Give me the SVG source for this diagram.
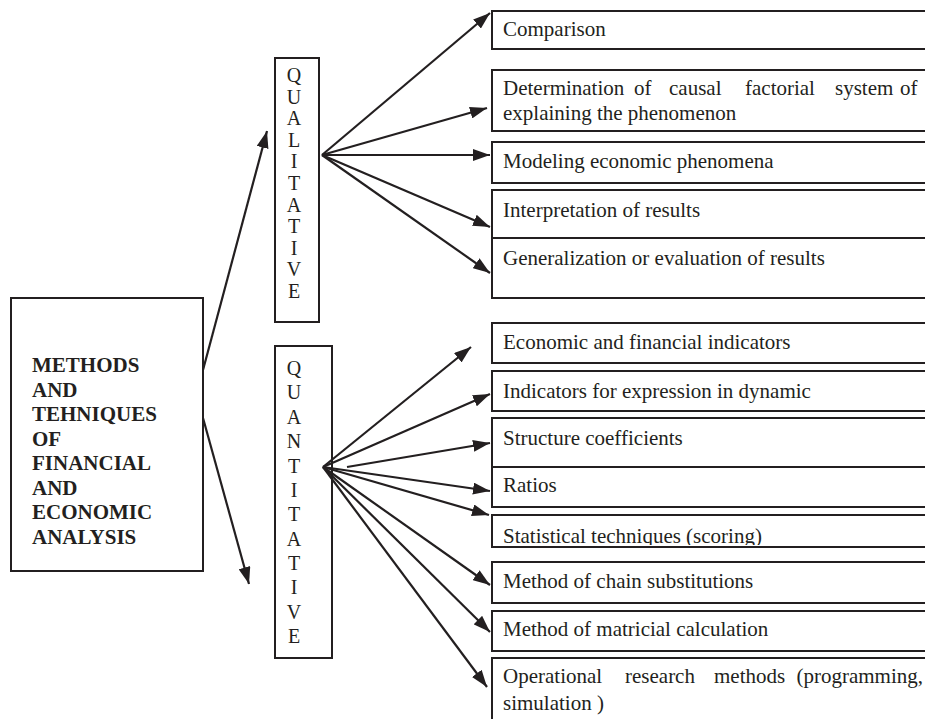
<svg xmlns="http://www.w3.org/2000/svg" width="925" height="719" viewBox="0 0 925 719">
<style>
  .box { fill: #fff; stroke: #231f20; stroke-width: 2; }
  .t { font-family: "Liberation Serif", "Times New Roman", serif; font-size: 21px; fill: #231f20; }
  .b { font-family: "Liberation Serif", "Times New Roman", serif; font-size: 21px; font-weight: bold; fill: #231f20; }
  .v { font-family: "Liberation Serif", "Times New Roman", serif; font-size: 20px; fill: #231f20; text-anchor: middle; }
  .c { stroke: #231f20; stroke-width: 2.2; fill: none; marker-end: url(#ah); }
</style>
<defs>
  <marker id="ah" markerUnits="userSpaceOnUse" markerWidth="17" markerHeight="12" refX="17" refY="6" orient="auto">
    <path d="M0,0 L17,6 L0,12 z" fill="#231f20"/>
  </marker>
  <clipPath id="clipStat"><rect x="492" y="515" width="440" height="30"/></clipPath>
</defs>
<rect width="925" height="719" fill="#fff"/>

<g id="main">
  <rect class="box" x="11" y="298" width="192" height="273"/>
  <text class="b" x="32" y="372">METHODS</text>
  <text class="b" x="32" y="397">AND</text>
  <text class="b" x="32" y="421">TEHNIQUES</text>
  <text class="b" x="32" y="446">OF</text>
  <text class="b" x="32" y="470">FINANCIAL</text>
  <text class="b" x="32" y="495">AND</text>
  <text class="b" x="32" y="519">ECONOMIC</text>
  <text class="b" x="32" y="544">ANALYSIS</text>
</g>

<g id="qualitative">
  <rect class="box" x="275" y="58" width="44" height="264"/>
  <text class="v" x="294" y="82">Q</text>
  <text class="v" x="294" y="104">U</text>
  <text class="v" x="294" y="125">A</text>
  <text class="v" x="294" y="147">L</text>
  <text class="v" x="294" y="168">I</text>
  <text class="v" x="294" y="190">T</text>
  <text class="v" x="294" y="212">A</text>
  <text class="v" x="294" y="233">T</text>
  <text class="v" x="294" y="255">I</text>
  <text class="v" x="294" y="276">V</text>
  <text class="v" x="294" y="298">E</text>
</g>

<g id="quantitative">
  <rect class="box" x="275" y="346" width="57" height="312"/>
  <text class="v" x="294" y="375">Q</text>
  <text class="v" x="294" y="399">U</text>
  <text class="v" x="294" y="424">A</text>
  <text class="v" x="294" y="448">N</text>
  <text class="v" x="294" y="473">T</text>
  <text class="v" x="294" y="497">I</text>
  <text class="v" x="294" y="521">T</text>
  <text class="v" x="294" y="546">A</text>
  <text class="v" x="294" y="570">T</text>
  <text class="v" x="294" y="594">I</text>
  <text class="v" x="294" y="619">V</text>
  <text class="v" x="294" y="643">E</text>
</g>

<g id="comparison">
  <rect class="box" x="492" y="11" width="445" height="38"/>
  <text class="t" x="503" y="36">Comparison</text>
</g>
<g id="determination">
  <rect class="box" x="492" y="70" width="445" height="61"/>
  <text class="t" y="95"><tspan x="503">Determination</tspan><tspan x="634">of</tspan><tspan x="669">causal</tspan><tspan x="745">factorial</tspan><tspan x="835">system</tspan><tspan x="900">of</tspan></text>
  <text class="t" x="503" y="120">explaining the phenomenon</text>
</g>
<g id="modeling">
  <rect class="box" x="492" y="142" width="445" height="41"/>
  <text class="t" x="503" y="168">Modeling economic phenomena</text>
</g>
<g id="interpretation">
  <rect class="box" x="492" y="190" width="445" height="48"/>
  <text class="t" x="503" y="217">Interpretation of results</text>
</g>
<g id="generalization">
  <rect class="box" x="492" y="238" width="445" height="60"/>
  <text class="t" x="503" y="265">Generalization or evaluation of results</text>
</g>

<g id="economic">
  <rect class="box" x="492" y="323" width="445" height="40"/>
  <text class="t" x="503" y="349">Economic and financial indicators</text>
</g>
<g id="dynamic">
  <rect class="box" x="492" y="371" width="445" height="40"/>
  <text class="t" x="503" y="398">Indicators for expression in dynamic</text>
</g>
<g id="structure">
  <rect class="box" x="492" y="418" width="445" height="49"/>
  <text class="t" x="503" y="445">Structure coefficients</text>
</g>
<g id="ratios">
  <rect class="box" x="492" y="467" width="445" height="40"/>
  <text class="t" x="503" y="492">Ratios</text>
</g>
<g id="statistical">
  <rect class="box" x="492" y="515" width="445" height="32"/>
  <text class="t" x="503" y="543" clip-path="url(#clipStat)">Statistical techniques (scoring)</text>
</g>
<g id="chain">
  <rect class="box" x="492" y="562" width="445" height="41"/>
  <text class="t" x="503" y="588">Method of chain substitutions</text>
</g>
<g id="matricial">
  <rect class="box" x="492" y="611" width="445" height="40"/>
  <text class="t" x="503" y="636">Method of matricial calculation</text>
</g>
<g id="operational">
  <rect class="box" x="492" y="658" width="445" height="80"/>
  <text class="t" y="683"><tspan x="503">Operational</tspan><tspan x="625">research</tspan><tspan x="714">methods</tspan><tspan x="923" text-anchor="end">(programming,</tspan></text>
  <text class="t" x="503" y="710">simulation )</text>
</g>

<g id="connectors">
  <line class="c" x1="203" y1="370" x2="267" y2="131"/>
  <line class="c" x1="203" y1="418" x2="249" y2="584"/>
  <line class="c" x1="322" y1="155" x2="490" y2="13"/>
  <line class="c" x1="322" y1="155" x2="487" y2="108"/>
  <line class="c" x1="322" y1="155" x2="490" y2="155"/>
  <line class="c" x1="322" y1="155" x2="490" y2="227"/>
  <line class="c" x1="322" y1="155" x2="490" y2="273"/>
  <line class="c" x1="323" y1="467" x2="471" y2="347"/>
  <line class="c" x1="323" y1="467" x2="490" y2="394"/>
  <line class="c" x1="347" y1="467" x2="490" y2="443"/>
  <line class="c" x1="323" y1="467" x2="490" y2="491"/>
  <line class="c" x1="323" y1="467" x2="489" y2="515"/>
  <line class="c" x1="323" y1="467" x2="490" y2="585"/>
  <line class="c" x1="323" y1="467" x2="490" y2="632"/>
  <line class="c" x1="323" y1="467" x2="487" y2="687"/>
</g>
</svg>
